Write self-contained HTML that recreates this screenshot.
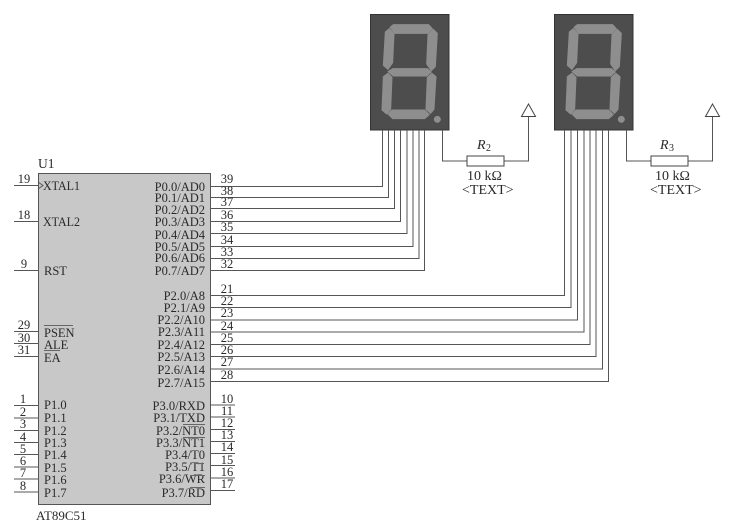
<!DOCTYPE html>
<html><head><meta charset="utf-8"><style>
html,body{margin:0;padding:0;background:#fff}
svg{display:block}
text{font-family:"Liberation Serif",serif;font-size:12.5px;fill:#2a2a2a}
.r{text-anchor:end}
.m{text-anchor:middle}
.w{fill:none;stroke:#555;stroke-width:1}
</style></head><body>
<svg width="733" height="524" viewBox="0 0 733 524" xmlns="http://www.w3.org/2000/svg">
<defs>
<g id="seg">
<rect x="370.5" y="14.5" width="78.5" height="115.5" fill="#4d4d4d" stroke="#333"/>
<g transform="translate(378,20) scale(.33333)" fill="#8e8e8e" stroke="#8e8e8e" stroke-width="3" stroke-linejoin="round">
<polygon points="36,22 46,14 152,14 163,26 150,40 50,40"/>
<polygon points="22,36 34,26 48,42 44,128 30,148 16,136"/>
<polygon points="166,28 178,40 172,140 160,152 146,132 150,44"/>
<polygon points="30,155 44,146 148,146 160,156 146,168 46,168"/>
<polygon points="16,170 30,160 42,172 38,268 26,282 12,270"/>
<polygon points="162,160 174,170 168,268 158,280 144,268 148,172"/>
<polygon points="30,282 42,270 140,270 154,284 140,296 44,296"/>
<circle cx="178" cy="298" r="9"/>
</g>
</g>
</defs>

<rect x="38.5" y="173.5" width="172" height="331" fill="#c8c8c8" stroke="#555"/>

<use href="#seg"/>
<use href="#seg" x="184"/>

<!-- P0 wires -->
<path class="w" d="M210 186.5H382.5V130M210 197.5H388.5V130M210 208.5H394.5V130M210 221.5H400.5V130M210 233.5H407V130M210 246.5H413V130M210 258.5H419V130M210 270.5H424.5V130"/>
<!-- P2 wires -->
<path class="w" d="M210 295.5H564.5V130M210 307.5H571V130M210 320H577.5V130M210 332H584V130M210 344.5H590V130M210 356.5H596V130M210 369H602.5V130M210 381.5H608.5V130"/>
<!-- P3 pins -->
<path class="w" d="M210 405H235M210 417H235M210 429.5H235M210 441.5H235M210 453.5H235M210 465.5H235M210 478H235M210 490.5H235"/>
<!-- left pins -->
<path class="w" d="M14 185.5H38M14 221.5H38M14 270.5H38M14 331.5H38M14 343.5H38M14 356.5H38M14 405.5H38M14 418H38M14 430.5H38M14 442.5H38M14 454.5H38M14 467H38M14 479H38M14 492H38"/>
<path class="w" d="M38 182L43 185.5L38 189"/>

<!-- resistors -->
<path class="w" d="M442.5 130V161H467M504 161H528.5V117"/>
<rect x="467" y="156" width="37" height="10" fill="#fff" stroke="#444"/>
<polygon points="528.5,104 521.5,116.5 535.5,116.5" fill="#fff" stroke="#444"/>
<path class="w" d="M626.5 130V161H651M688 161H712.5V117"/>
<rect x="651" y="156" width="37" height="10" fill="#fff" stroke="#444"/>
<polygon points="712.5,104 705.5,116.5 719.5,116.5" fill="#fff" stroke="#444"/>

<text x="477" y="149" style="font-style:italic;font-size:14px">R</text><text x="486" y="151" style="font-size:10px">2</text>
<text x="467" y="180" style="font-size:14px">10 kΩ</text>
<text x="462" y="194" style="font-size:14px">&lt;TEXT&gt;</text>
<text x="660" y="149" style="font-style:italic;font-size:14px">R</text><text x="669" y="151" style="font-size:10px">3</text>
<text x="655" y="180" style="font-size:14px">10 kΩ</text>
<text x="650" y="194" style="font-size:14px">&lt;TEXT&gt;</text>

<text x="38" y="168" style="font-size:13.5px">U1</text>
<text x="36" y="520" style="font-size:13px">AT89C51</text>

<!-- left labels -->
<text x="43" y="190" textLength="37" lengthAdjust="spacingAndGlyphs" style="font-size:13px">XTAL1</text>
<text x="43" y="226" textLength="37" lengthAdjust="spacingAndGlyphs" style="font-size:13px">XTAL2</text>
<text x="44" y="275">RST</text>
<text x="44" y="337">PSEN</text>
<text x="44" y="349">ALE</text>
<text x="44" y="362">EA</text>
<path d="M44 325.5H73M44 350.5H60" stroke="#666" fill="none"/>
<text x="44" y="409">P1.0</text>
<text x="44" y="422">P1.1</text>
<text x="44" y="435">P1.2</text>
<text x="44" y="447">P1.3</text>
<text x="44" y="459">P1.4</text>
<text x="44" y="472">P1.5</text>
<text x="44" y="484">P1.6</text>
<text x="44" y="497">P1.7</text>

<!-- left numbers -->
<text class="m" x="24" y="183">19</text>
<text class="m" x="24" y="219">18</text>
<text class="m" x="24" y="268">9</text>
<text class="m" x="24" y="329">29</text>
<text class="m" x="24" y="342">30</text>
<text class="m" x="24" y="354">31</text>
<text class="m" x="23" y="403">1</text>
<text class="m" x="23" y="416">2</text>
<text class="m" x="23" y="428">3</text>
<text class="m" x="23" y="441">4</text>
<text class="m" x="23" y="453">5</text>
<text class="m" x="23" y="465">6</text>
<text class="m" x="23" y="477">7</text>
<text class="m" x="23" y="490">8</text>

<!-- right labels -->
<text class="r" x="205" y="191">P0.0/AD0</text>
<text class="r" x="205" y="202">P0.1/AD1</text>
<text class="r" x="205" y="214">P0.2/AD2</text>
<text class="r" x="205" y="226">P0.3/AD3</text>
<text class="r" x="205" y="239">P0.4/AD4</text>
<text class="r" x="205" y="251">P0.5/AD5</text>
<text class="r" x="205" y="262">P0.6/AD6</text>
<text class="r" x="205" y="275">P0.7/AD7</text>
<text class="r" x="205" y="300">P2.0/A8</text>
<text class="r" x="205" y="312">P2.1/A9</text>
<text class="r" x="205" y="324">P2.2/A10</text>
<text class="r" x="205" y="336">P2.3/A11</text>
<text class="r" x="205" y="349">P2.4/A12</text>
<text class="r" x="205" y="361">P2.5/A13</text>
<text class="r" x="205" y="374">P2.6/A14</text>
<text class="r" x="205" y="387">P2.7/A15</text>
<text class="r" x="205" y="410">P3.0/RXD</text>
<text class="r" x="205" y="422">P3.1/TXD</text>
<text class="r" x="205" y="435">P3.2/NT0</text>
<text class="r" x="205" y="447">P3.3/NT1</text>
<text class="r" x="205" y="459">P3.4/T0</text>
<text class="r" x="205" y="471">P3.5/T1</text>
<text class="r" x="205" y="483">P3.6/WR</text>
<text class="r" x="205" y="497">P3.7/RD</text>
<path d="M183 424.5H205M183 437.5H205M195 463.5H204M190 475.5H205M190 487.5H205" stroke="#666" fill="none"/>

<!-- right numbers -->
<text class="m" x="227" y="183">39</text>
<text class="m" x="227" y="195">38</text>
<text class="m" x="227" y="206">37</text>
<text class="m" x="227" y="219">36</text>
<text class="m" x="227" y="231">35</text>
<text class="m" x="227" y="244">34</text>
<text class="m" x="227" y="256">33</text>
<text class="m" x="227" y="268">32</text>
<text class="m" x="227" y="293">21</text>
<text class="m" x="227" y="305">22</text>
<text class="m" x="227" y="317">23</text>
<text class="m" x="227" y="330">24</text>
<text class="m" x="227" y="342">25</text>
<text class="m" x="227" y="354">26</text>
<text class="m" x="227" y="366">27</text>
<text class="m" x="227" y="379">28</text>
<text class="m" x="227" y="403">10</text>
<text class="m" x="227" y="415">11</text>
<text class="m" x="227" y="427">12</text>
<text class="m" x="227" y="439">13</text>
<text class="m" x="227" y="451">14</text>
<text class="m" x="227" y="464">15</text>
<text class="m" x="227" y="476">16</text>
<text class="m" x="227" y="488">17</text>
</svg>
</body></html>
